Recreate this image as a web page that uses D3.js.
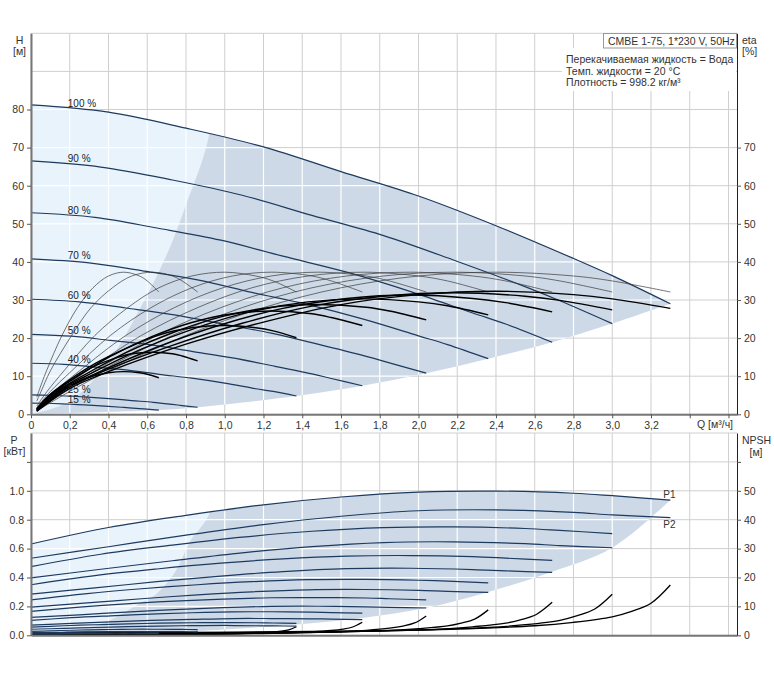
<!DOCTYPE html>
<html><head><meta charset="utf-8">
<script src="https://cdn.jsdelivr.net/npm/d3@7"></script>
<style>body{margin:0;background:#fff}svg{display:block}</style>
</head><body><svg id="c" width="774" height="678"></svg>
<script>
const FONT='"Liberation Sans", Arial, sans-serif';
// ---------- DATA ----------
const speedLabels=["100 %","90 %","80 %","70 %","60 %","50 %","40 %","25 %","15 %"];
const labelShift=[0,0,0,0,0,0,0,-1.5,0.5];
// QH curves per speed: Q [m3/h], H [m]
const qhQ100=[0,0.4,0.8,1.2,1.6,2.0,2.4,2.8,3.0,3.3], qhH100=[81.2,79.3,75.1,70.2,63.7,57.3,49.5,40.9,36.4,29.0];
const qhQ90=[0,0.36,0.73,1.09,1.45,1.82,2.18,2.55,2.73,3.0], qhH90=[66.5,64.9,61.5,57.5,52.2,46.9,40.5,33.5,29.8,23.8];
const qhQ80=[0,0.33,0.65,0.98,1.30,1.63,1.96,2.28,2.45,2.69], qhH80=[52.9,51.7,48.9,45.7,41.5,37.3,32.2,26.6,23.7,18.9];
const qhQ70=[0,0.29,0.57,0.86,1.14,1.43,1.72,2.0,2.15,2.36], qhH70=[40.8,39.8,37.7,35.3,32.0,28.8,24.9,20.6,18.3,14.6];
const qhQ60=[0,0.25,0.49,0.74,0.99,1.24,1.48,1.73,1.85,2.04], qhH60=[30.2,29.5,27.9,26.1,23.7,21.3,18.4,15.2,13.5,10.8];
const qhQ50=[0,0.21,0.41,0.62,0.83,1.04,1.24,1.45,1.55,1.71], qhH50=[21.0,20.5,19.4,18.2,16.5,14.8,12.8,10.6,9.4,7.5];
const qhQ40=[0,0.17,0.33,0.50,0.66,0.83,1.0,1.16,1.25,1.37], qhH40=[13.4,13.1,12.4,11.6,10.5,9.5,8.2,6.7,6.0,4.8];
const qhQ25=[0,0.10,0.21,0.31,0.42,0.52,0.63,0.73,0.78,0.86], qhH25=[5.1,5.0,4.75,4.45,4.05,3.6,3.15,2.6,2.3,1.85];
const qhQ15=[0,0.08,0.16,0.24,0.32,0.40,0.48,0.56,0.60,0.66], qhH15=[2.95,2.9,2.75,2.55,2.35,2.1,1.8,1.5,1.35,1.1];
// efficiency curves: Q per speed, pump eta (thin) and total eta (thick) [%]
const etQ100=[0.03,0.2,0.4,0.8,1.2,1.6,2.0,2.4,2.8,3.0,3.3];
const etQ90=[0.03,0.18,0.36,0.73,1.09,1.45,1.82,2.18,2.55,2.73,3.0];
const etQ80=[0.03,0.16,0.33,0.65,0.98,1.30,1.63,1.96,2.28,2.45,2.69];
const etQ70=[0.03,0.14,0.29,0.57,0.86,1.14,1.43,1.72,2.0,2.15,2.36];
const etQ60=[0.03,0.12,0.25,0.49,0.74,0.99,1.24,1.48,1.73,1.85,2.04];
const etQ50=[0.03,0.10,0.21,0.41,0.62,0.83,1.04,1.24,1.45,1.55,1.71];
const etQ40=[0.03,0.083,0.17,0.33,0.50,0.66,0.83,1.0,1.16,1.25,1.37];
const etQ25=[0.03,0.052,0.10,0.21,0.31,0.42,0.52,0.63,0.73,0.78,0.86];
const etQ15=[0.03,0.04,0.08,0.16,0.24,0.32,0.40,0.48,0.56,0.60,0.66];
const etaP100=[0.9,6.0,11.4,20.7,28.0,33.2,36.3,37.3,36.3,35.0,32.1];
const etaP90=[1.0,6.0,11.4,20.7,28.0,33.2,36.3,37.3,36.3,35.0,32.1];
const etaP80=[1.1,6.0,11.4,20.7,28.0,33.2,36.3,37.3,36.3,35.0,32.1];
const etaP70=[1.3,6.0,11.4,20.7,28.0,33.2,36.3,37.3,36.3,35.0,32.1];
const etaP60=[1.5,6.0,11.4,20.7,28.0,33.2,36.3,37.3,36.3,35.0,32.1];
const etaP50=[1.8,6.0,11.4,20.7,28.0,33.2,36.3,37.3,36.3,35.0,32.1];
const etaP40=[2.2,6.0,11.4,20.7,28.0,33.2,36.3,37.3,36.3,35.0,32.1];
const etaP25=[3.5,6.0,11.4,20.7,28.0,33.2,36.3,37.3,36.3,35.0,32.1];
const etaP15=[4.5,6.0,11.4,20.7,28.0,33.2,36.3,37.3,36.3,35.0,32.1];
const etaT100=[0.8,6.8,11.2,18.4,24.2,28.8,31.4,32.3,31.4,30.3,27.8];
const etaT90=[0.85,6.6,11.0,18.1,23.9,28.4,31.0,31.9,31.0,29.9,27.4];
const etaT80=[0.9,6.4,10.6,17.6,23.5,27.8,30.4,31.3,30.4,29.3,26.9];
const etaT70=[1.05,6.0,10.2,17.1,22.8,27.0,29.5,30.3,29.5,28.5,26.1];
const etaT60=[1.15,5.6,9.6,16.2,21.6,25.7,28.1,28.8,28.1,27.1,24.8];
const etaT50=[1.3,5.2,9.0,15.2,20.3,24.1,26.4,27.1,26.4,25.4,23.3];
const etaT40=[1.4,4.5,8.0,13.3,17.5,20.8,22.7,23.3,22.7,21.9,20.1];
const etaT25=[1.5,2.6,5.0,9.0,12.2,14.5,15.9,16.3,15.9,15.3,14.0];
const etaT15=[1.35,1.8,3.4,6.2,8.4,10.0,10.9,11.2,10.9,10.5,9.6];
// power curves [kW] (same Q as QH curves)
const p1_100=[0.632,0.746,0.830,0.903,0.957,0.991,0.998,0.983,0.966,0.936];
const p1_90=[0.475,0.561,0.624,0.679,0.720,0.745,0.750,0.739,0.726,0.704];
const p1_80=[0.350,0.413,0.459,0.499,0.529,0.548,0.552,0.544,0.534,0.518];
const p1_70=[0.245,0.289,0.322,0.350,0.371,0.385,0.387,0.381,0.375,0.363];
const p1_60=[0.166,0.195,0.217,0.237,0.251,0.260,0.261,0.258,0.253,0.245];
const p1_50=[0.103,0.122,0.135,0.147,0.156,0.162,0.163,0.160,0.157,0.153];
const p1_40=[0.056,0.066,0.073,0.079,0.084,0.087,0.088,0.087,0.085,0.082];
const p1_25=[0.027,0.031,0.035,0.038,0.040,0.042,0.042,0.041,0.041,0.039];
const p1_15=[0.016,0.019,0.021,0.023,0.024,0.025,0.025,0.025,0.024,0.023];
const p2_100=[0.533,0.613,0.693,0.766,0.824,0.862,0.868,0.851,0.833,0.814];
const p2_90=[0.397,0.457,0.516,0.571,0.614,0.642,0.647,0.634,0.621,0.606];
const p2_80=[0.285,0.328,0.371,0.410,0.441,0.461,0.464,0.455,0.446,0.435];
const p2_70=[0.195,0.224,0.253,0.280,0.301,0.315,0.317,0.311,0.304,0.297];
const p2_60=[0.124,0.142,0.161,0.178,0.191,0.200,0.201,0.197,0.193,0.189];
const p2_50=[0.071,0.082,0.093,0.103,0.110,0.116,0.116,0.114,0.112,0.109];
const p2_40=[0.042,0.048,0.054,0.060,0.064,0.067,0.068,0.066,0.065,0.063];
const p2_25=[0.016,0.018,0.021,0.023,0.025,0.026,0.026,0.026,0.025,0.024];
const p2_15=[0.009,0.010,0.011,0.012,0.013,0.014,0.014,0.014,0.013,0.013];
// NPSH curves [m]
const npQ100=[0,0.8,1.6,2.2,2.6,2.8,3.0,3.1,3.2,3.3], np100=[0.8,1.0,1.4,2.2,3.3,4.5,6.4,8.3,11.1,17.4];
const npQ90=[0,0.73,1.45,2.0,2.36,2.55,2.73,2.82,2.91,3.0], np90=[0.65,0.82,1.14,1.8,2.7,3.67,5.2,6.8,9.1,14.2];
const npQ80=[0,0.65,1.30,1.79,2.12,2.28,2.45,2.53,2.61,2.69], np80=[0.52,0.66,0.92,1.44,2.16,2.95,4.2,5.4,7.3,11.4];
const npQ70=[0,0.57,1.14,1.57,1.86,2.0,2.15,2.22,2.29,2.36], np70=[0.4,0.51,0.71,1.11,1.67,2.28,3.24,4.2,5.6,8.8];
const npQ60=[0,0.49,0.99,1.36,1.61,1.73,1.85,1.92,1.98,2.04], np60=[0.31,0.39,0.54,0.85,1.27,1.73,2.46,3.2,4.27,6.7];
const npQ50=[0,0.41,0.83,1.14,1.35,1.45,1.55,1.61,1.66,1.71], np50=[0.21,0.26,0.36,0.57,0.85,1.17,1.66,2.15,2.87,4.5];
const npQ40=[0,0.33,0.66,0.91,1.08,1.16,1.25,1.29,1.33,1.37], np40=[0.14,0.17,0.24,0.37,0.56,0.77,1.09,1.41,1.89,2.96];
const npQ25=[0,0.21,0.42,0.57,0.68,0.73,0.78,0.81,0.84,0.86], np25=[0.05,0.07,0.1,0.15,0.22,0.31,0.44,0.56,0.75,1.18];
const npQ15=[0,0.16,0.32,0.44,0.52,0.56,0.60,0.62,0.64,0.66], np15=[0.03,0.04,0.06,0.09,0.13,0.18,0.26,0.33,0.44,0.7];
// operating-area boundaries
const hLowerQ=[3.3,3.0,2.69,2.36,2.04,1.71,1.37,0.86,0.66,0], hLowerH=[29,23.8,18.9,14.6,10.8,7.5,4.8,1.85,1.1,0];
const hSplitQ=[0,0.2,0.4,0.563,0.70,0.8,0.92,0.95], hSplitH=[0,3.4,13.8,27.8,41.8,55,73.6,100];
const pLowerQ=[3.3,3.0,2.69,2.36,2.04,1.71,1.37,0.86,0.66,0], pLowerP=[0.936,0.606,0.44,0.30,0.19,0.12,0.075,0.03,0.018,0];
const pSplitQ=[0,0.2,0.39,0.56,0.65,0.75,0.82,0.924,0.95], pSplitP=[0,0.03,0.094,0.22,0.29,0.452,0.648,0.855,1.4];
// ticks
const qTicks=[0,0.2,0.4,0.6,0.8,1.0,1.2,1.4,1.6,1.8,2.0,2.2,2.4,2.6,2.8,3.0,3.2,3.4,3.6];
const qTickLabels=["0","0,2","0,4","0,6","0,8","1,0","1,2","1,4","1,6","1,8","2,0","2,2","2,4","2,6","2,8","3,0","3,2","",""];
const hTicks=[0,10,20,30,40,50,60,70,80], hTickLabels=["0","10","20","30","40","50","60","70","80"];
const etaTicks=[0,10,20,30,40,50,60,70], etaTickLabels=["0","10","20","30","40","50","60","70"];
const pTicks=[0,0.2,0.4,0.6,0.8,1.0,1.2], pTickLabels=["0.0","0.2","0.4","0.6","0.8","1.0",""];
const nTicks=[0,10,20,30,40,50,60], nTickLabels=["0","10","20","30","40","50",""];
const hGrid=[0,10,20,30,40,50,60,70,80,90,100];
const pGrid=[0,0.2,0.4,0.6,0.8,1.0,1.2,1.4];

// ---------- SCALES ----------
const svg=d3.select("#c");
const x=d3.scaleLinear().domain([0,3.644]).range([31,737]);
const yH=d3.scaleLinear().domain([0,100]).range([414.3,33.3]);
const yP=d3.scaleLinear().domain([0,1.4]).range([635.3,433]);
const yN=d3.scaleLinear().domain([0,70]).range([635.3,433]);
const pts=(Q,V)=>Q.map((q,i)=>[q,V[i]]);
const cr=d3.curveCatmullRom.alpha(0.5);
const lineFor=ys=>d3.line().x(d=>x(d[0])).y(d=>ys(d[1])).curve(cr);
const lH=lineFor(yH), lP=lineFor(yP), lN=lineFor(yN);

const qhQ=[qhQ100,qhQ90,qhQ80,qhQ70,qhQ60,qhQ50,qhQ40,qhQ25,qhQ15];
const qhH=[qhH100,qhH90,qhH80,qhH70,qhH60,qhH50,qhH40,qhH25,qhH15];
const etQ=[etQ100,etQ90,etQ80,etQ70,etQ60,etQ50,etQ40,etQ25,etQ15];
const etaP=[etaP100,etaP90,etaP80,etaP70,etaP60,etaP50,etaP40,etaP25,etaP15];
const etaT=[etaT100,etaT90,etaT80,etaT70,etaT60,etaT50,etaT40,etaT25,etaT15];
const p1=[p1_100,p1_90,p1_80,p1_70,p1_60,p1_50,p1_40,p1_25,p1_15];
const p2=[p2_100,p2_90,p2_80,p2_70,p2_60,p2_50,p2_40,p2_25,p2_15];
const npQ=[npQ100,npQ90,npQ80,npQ70,npQ60,npQ50,npQ40,npQ25,npQ15];
const npV=[np100,np90,np80,np70,np60,np50,np40,np25,np15];

const NAVY="#1d3a5f", GRID="#cfcfcf", DARK="#cdd9e6", LIGHT="#e9f3fc";
const defs=svg.append("defs");

function panel(ys, yMax, gridVals, topPts, lowerPts, splitPts, lineGen, id){
  const g=svg.append("g");
  qTicks.forEach(q=>g.append("line").attr("x1",x(q)).attr("x2",x(q)).attr("y1",ys(0)).attr("y2",ys(yMax)).attr("stroke",GRID));
  gridVals.forEach(v=>g.append("line").attr("x1",x(0)).attr("x2",x.range()[1]).attr("y1",ys(v)).attr("y2",ys(v)).attr("stroke",GRID));
  const region=lineGen(topPts)+lineGen(lowerPts).replace(/^M/,"L")+"Z";
  defs.append("clipPath").attr("id",id).append("path").attr("d",region);
  g.append("path").attr("d",region).attr("fill",DARK);
  const split=lineGen(splitPts)+`L${x(0)},${ys(yMax)}Z`;
  const cg=g.append("g").attr("clip-path",`url(#${id})`);
  cg.append("path").attr("d",split).attr("fill",LIGHT);
  qTicks.forEach(q=>cg.append("line").attr("x1",x(q)).attr("x2",x(q)).attr("y1",ys(0)).attr("y2",ys(yMax)).attr("stroke","#fff").attr("stroke-width",1.2));
  gridVals.forEach(v=>cg.append("line").attr("x1",x(0)).attr("x2",x.range()[1]).attr("y1",ys(v)).attr("y2",ys(v)).attr("stroke","#fff").attr("stroke-width",1.2));
  return g;
}

// ---------- TOP PANEL ----------
panel(yH,100,hGrid,pts(qhQ100,qhH100),pts(hLowerQ,hLowerH),pts(hSplitQ,hSplitH),lH,"clipTop");
const topG=svg.append("g");
qhQ.forEach((Q,i)=>topG.append("path").attr("d",lH(pts(Q,qhH[i]))).attr("fill","none").attr("stroke",NAVY).attr("stroke-width",1.2));
etQ.forEach((Q,i)=>topG.append("path").attr("d",lH(pts(Q,etaP[i]))).attr("fill","none").attr("stroke","#3a3a3a").attr("stroke-width",0.7));
etQ.forEach((Q,i)=>topG.append("path").attr("d",lH(pts(Q,etaT[i]))).attr("fill","none").attr("stroke","#000").attr("stroke-width",1.4));
const interp=(Q,V,q)=>{for(let i=1;i<Q.length;i++){if(q<=Q[i]){const t=(q-Q[i-1])/(Q[i]-Q[i-1]);return V[i-1]+t*(V[i]-V[i-1]);}}return V[V.length-1];};
speedLabels.forEach((s,i)=>topG.append("text").attr("x",x(0.19)).attr("y",yH(interp(qhQ[i],qhH[i],0.2))-2+labelShift[i])
  .text(s).attr("font-family",FONT).attr("font-size",10).attr("fill","#222"));

// ---------- BOTTOM PANEL ----------
panel(yP,1.4,pGrid,pts(qhQ100,p1_100),pts(pLowerQ,pLowerP),pts(pSplitQ,pSplitP),lP,"clipBot");
const botG=svg.append("g");
npQ.forEach((Q,i)=>botG.append("path").attr("d",lN(pts(Q,npV[i]))).attr("fill","none").attr("stroke","#000").attr("stroke-width",1.3));
qhQ.forEach((Q,i)=>{
  botG.append("path").attr("d",lP(pts(Q,p1[i]))).attr("fill","none").attr("stroke",NAVY).attr("stroke-width",1.2);
  botG.append("path").attr("d",lP(pts(Q,p2[i]))).attr("fill","none").attr("stroke",NAVY).attr("stroke-width",1.2);
});
botG.append("text").attr("x",x(3.3)-7).attr("y",yP(p1_100[9])-2).text("P1");
botG.append("text").attr("x",x(3.3)-7).attr("y",yP(p2_100[9])+10).text("P2");
botG.selectAll("text").attr("font-family",FONT).attr("font-size",10).attr("fill","#333");

// ---------- AXES ----------
function styleAx(g,domCol,domW){
  g.attr("font-family",FONT).attr("font-size",10.5);
  g.select(".domain").attr("stroke",domCol).attr("stroke-width",domW);
  g.selectAll(".tick line").attr("stroke","#555");
  g.selectAll(".tick text").attr("fill","#333");
}
styleAx(svg.append("g").attr("transform",`translate(0,${yH(0)})`).call(d3.axisBottom(x).tickValues(qTicks).tickFormat((d,i)=>qTickLabels[i]).tickSize(4).tickSizeOuter(0)),"#777",2);
styleAx(svg.append("g").attr("transform",`translate(${x(0)},0)`).call(d3.axisLeft(yH).tickValues(hTicks).tickFormat((d,i)=>hTickLabels[i]).tickSize(4).tickSizeOuter(0)),"#777",2);
styleAx(svg.append("g").attr("transform",`translate(${x.range()[1]},0)`).call(d3.axisRight(yH).tickValues(etaTicks).tickFormat((d,i)=>etaTickLabels[i]).tickSize(4).tickSizeOuter(0)),"#222",1);
styleAx(svg.append("g").attr("transform",`translate(0,${yP(0)})`).call(d3.axisBottom(x).tickValues([]).tickSizeOuter(0)),"#777",2);
styleAx(svg.append("g").attr("transform",`translate(${x(0)},0)`).call(d3.axisLeft(yP).tickValues(pTicks).tickFormat((d,i)=>pTickLabels[i]).tickSize(4).tickSizeOuter(0)),"#777",2);
styleAx(svg.append("g").attr("transform",`translate(${x.range()[1]},0)`).call(d3.axisRight(yN).tickValues(nTicks).tickFormat((d,i)=>nTickLabels[i]).tickSize(4).tickSizeOuter(0)),"#222",1);

// ---------- TITLES / LEGEND ----------
const T=(tx,ty,s,anchor)=>svg.append("text").attr("x",tx).attr("y",ty).attr("text-anchor",anchor||"start")
  .attr("font-family",FONT).attr("font-size",10.5).attr("fill","#333").text(s);
T(19.5,43.5,"H","middle"); T(19.5,55,"[м]","middle");
T(742,43.5,"eta"); T(742,55,"[%]");
T(14,443.5,"P","middle"); T(14.5,455,"[кВт]","middle");
T(742,444,"NPSH"); T(756,456,"[м]","middle");
T(697,428,"Q [м³/ч]");
svg.append("rect").attr("x",562).attr("y",48).attr("width",174).attr("height",43).attr("fill","#fff");
svg.append("rect").attr("x",603.5).attr("y",33.5).attr("width",133).attr("height",14.5).attr("fill","#fff").attr("stroke","#999");
T(608,44.5,"CMBE 1-75, 1*230 V, 50Hz");
T(566,63,"Перекачиваемая жидкость = Вода");
T(566,74.5,"Темп. жидкости = 20 °C");
T(566,86,"Плотность = 998.2 кг/м³");
</script></body></html>
